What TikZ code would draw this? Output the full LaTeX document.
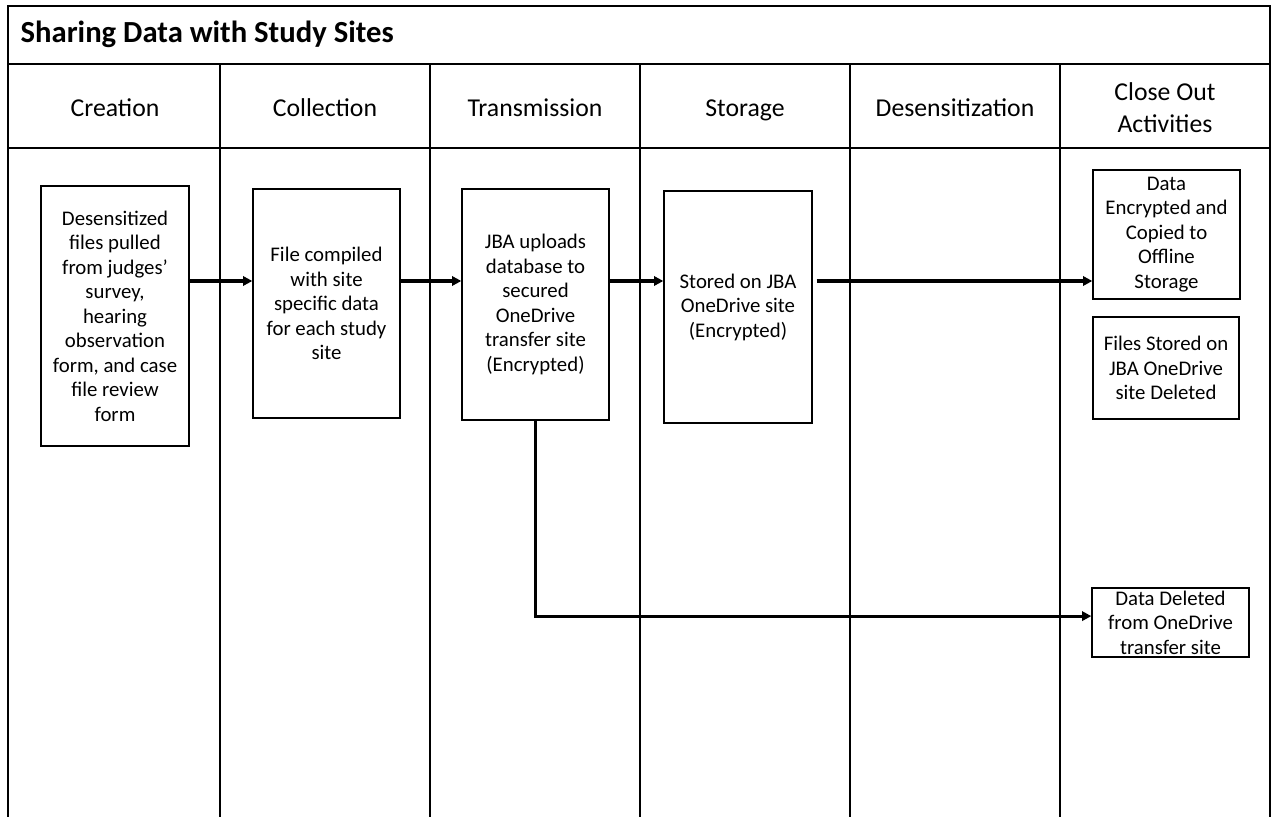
\documentclass[tikz,border=0pt]{standalone}
\usepackage{fontspec}
\setmainfont{Carlito}
\usetikzlibrary{arrows.meta,calc}

\tikzset{
  lane/.style={line width=0.9pt},
  stepbox/.style={draw, line width=1pt, inner sep=0pt, align=center, font=\fontsize{15.6}{18.4}\selectfont},
  flow/.style={line width=2.3pt, -{Triangle[length=7pt,width=7pt]}},
}

\begin{document}
\begin{tikzpicture}[x=0.75pt,y=-0.75pt]
\useasboundingbox (0,0) rectangle (1272,817);
% frame and lanes
\draw[lane] (8,817) -- (8,6) -- (1270,6) -- (1270,817);
\draw[lane] (8,64) -- (1270,64) (8,148) -- (1270,148);
\foreach \x in {220,430,640,850,1060}
  \draw[lane] (\x,64) -- (\x,817);
\node[anchor=west, font=\fontsize{23}{27}\selectfont\bfseries] (title) at (16,34) {Sharing Data with Study Sites};
\foreach \x/\t [count=\i] in {115/Creation, 325/Collection, 535/Transmission, 745/Storage, 955/Desensitization, 1165/{Close Out\\Activities}}
  \node[align=center, font=\fontsize{19.3}{24}\selectfont] (head\i) at (\x,110) {\strut\t\strut};

% steps
\node[stepbox, minimum width=111pt, minimum height=195pt] (desens) at (115,316) {Desensitized\\files pulled\\from judges'\\survey,\\hearing\\observation\\form, and case\\file review\\form};
\node[stepbox, minimum width=110.25pt, minimum height=171.75pt] (compile) at (326.5,303.5) {File compiled\\with site\\specific data\\for each study\\site};
\node[stepbox, minimum width=110.25pt, minimum height=173.25pt] (upload) at (535.5,304.5) {JBA uploads\\database to\\secured\\OneDrive\\transfer site\\(Encrypted)};
\node[stepbox, minimum width=111pt, minimum height=174pt] (store) at (738,307) {Stored on JBA\\OneDrive site\\(Encrypted)};
\node[stepbox, minimum width=110.25pt, minimum height=96.75pt] (offline) at (1166.5,234.5) {Data\\Encrypted and\\Copied to\\Offline\\Storage};
\node[stepbox, minimum width=109.5pt, minimum height=76.5pt] (purge) at (1166,368) {Files Stored on\\JBA OneDrive\\site Deleted};
\node[stepbox, minimum width=117.75pt, minimum height=51.75pt] (deltrans) at (1170.5,622.5) {Data Deleted\\from OneDrive\\transfer site};

% arrows
\coordinate (lvl) at (0,281);
\draw[flow] (desens.east |- lvl) -- (compile.west |- lvl);
\draw[flow] (compile.east |- lvl) -- (upload.west |- lvl);
\draw[flow] (upload.east |- lvl) -- (store.west |- lvl);
\draw[flow, shorten <=3pt] (store.east |- lvl) -- (offline.west |- lvl);
\draw[flow] (upload.south) |- ([yshift=4.8pt]deltrans.west);
\end{tikzpicture}
\end{document}
